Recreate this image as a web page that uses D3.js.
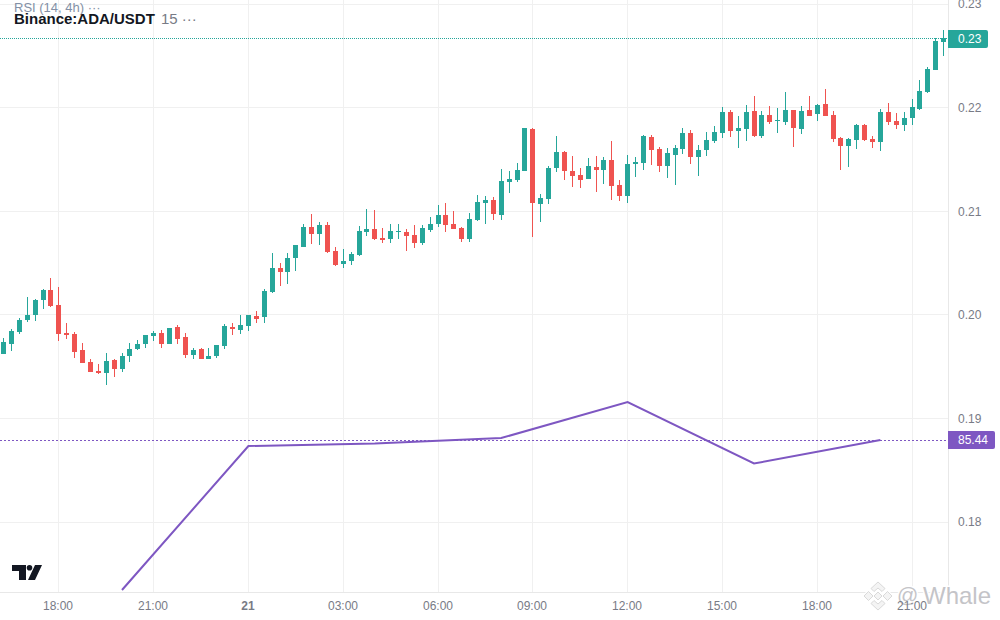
<!DOCTYPE html>
<html>
<head>
<meta charset="utf-8">
<script src="https://cdn.jsdelivr.net/npm/d3@7"></script>
<style>
  body { margin: 0; background: #fff; }
  text { font-family: "Liberation Sans", Arial, sans-serif; }
</style>
</head>
<body>
<svg id="chart" width="1000" height="620"></svg>
<script>
// 15m candles, first one at 16:15 on the 20th
const startTime = Date.UTC(2024, 0, 20, 16, 15)
const opens = [
  .19621,.19718,.19834,.1995,.19998,.20143,.20239,.20095,.19824,.19815,
  .1966,.19544,.19457,.19438,.19564,.19477,.19602,.1967,.19718,.19795,
  .19824,.19718,.19882,.19786,.19612,.1967,.19573,.19602,.19699,.19882,
  .19853,.19892,.19988,.19979,.2022,.20451,.20413,.20548,.20655,.20848,
  .2078,.20867,.20616,.2049,.20519,.20578,.208,.20828,.20742,.20732,
  .208,.208,.2077,.20693,.20819,.20877,.20964,.20877,.20838,.20732,
  .20915,.21079,.21108,.20963,.21282,.21301,.21388,.21794,.2107,.21118,
  .21417,.21572,.21388,.21349,.21311,.21427,.21398,.21494,.21253,.21147,
  .21456,.21465,.21716,.21601,.21436,.21543,.21601,.21755,.21523,.21591,
  .21678,.21754,.21957,.21774,.21793,.21967,.21725,.21928,.2187,.21861,
  .21977,.21793,.21977,.21938,.22034,.21928,.21706,.21629,.21687,.21832,
  .21697,.21667,.21957,.2187,.21832,.21899,.21986,.2215,.22363,.22633
]
const highs = [
  .19776,.19863,.19969,.20172,.20153,.20249,.20355,.20268,.19921,.19834,
  .19728,.19573,.19525,.19631,.19573,.19631,.19728,.19757,.19805,.19843,
  .19853,.19873,.19901,.19824,.19679,.19679,.19679,.19709,.19911,.19921,
  .19998,.19998,.20037,.20249,.20596,.205,.20596,.20674,.20877,.20973,
  .20896,.20896,.20655,.20635,.20607,.20857,.21022,.21012,.20838,.20877,
  .20877,.20828,.20867,.20867,.20944,.2106,.21079,.21002,.20848,.20983,
  .21157,.21147,.21137,.21407,.21388,.21465,.21803,.21803,.21166,.21436,
  .21726,.21581,.21533,.21417,.21514,.21533,.21523,.21678,.21301,.21543,
  .21523,.21736,.21736,.2162,.2161,.21639,.21803,.21784,.21639,.21765,
  .21823,.22006,.21977,.21918,.22025,.22112,.21967,.22015,.21996,.2215,
  .21977,.22015,.22112,.22034,.22179,.21967,.21716,.21706,.21841,.21841,
  .21725,.21986,.22044,.21947,.21957,.22083,.22266,.22392,.22672,.22749
]
const lows = [
  .19621,.1965,.19815,.19931,.1994,.20056,.20075,.19747,.19766,.19583,
  .19535,.19448,.19428,.19322,.19399,.19448,.19544,.1966,.19679,.19747,
  .19679,.19718,.19718,.19583,.19573,.19573,.19573,.19583,.1967,.19805,
  .19815,.19843,.19921,.19921,.2021,.20278,.20297,.20423,.20655,.20684,
  .20674,.20597,.20471,.20452,.20481,.20568,.20761,.20722,.20693,.20693,
  .20732,.20616,.20645,.20674,.208,.20848,.208,.20828,.20703,.20703,
  .20906,.20877,.20915,.20915,.21176,.21282,.21388,.20751,.20896,.2107,
  .21379,.21301,.21234,.21224,.21311,.21186,.21263,.21108,.21098,.21079,
  .2133,.21398,.21446,.21379,.21321,.21253,.21552,.21456,.2134,.21533,
  .21658,.21706,.21716,.2161,.21677,.21716,.21706,.21841,.21754,.21832,
  .21619,.21745,.21918,.2187,.21918,.21667,.21397,.21426,.216,.21677,
  .2161,.21581,.21832,.21793,.21774,.21832,.21977,.22141,.22363,.22498
]
const closes = [
  .19738,.19843,.1995,.19998,.20143,.20239,.20085,.19815,.19805,.19641,
  .19535,.19448,.19438,.19554,.19477,.19602,.1967,.19718,.19805,.19824,
  .19718,.19873,.19766,.19612,.1966,.19573,.19602,.19709,.19892,.19863,
  .19901,.19998,.19959,.2023,.20451,.20413,.20548,.20674,.20848,.2078,
  .20867,.20607,.20481,.20519,.20587,.20809,.20828,.20732,.20722,.20809,
  .20809,.20761,.20693,.20838,.20877,.20964,.20867,.20828,.20732,.20925,
  .21089,.21108,.20973,.21292,.21311,.21398,.21803,.21079,.21127,.21417,
  .21572,.21388,.2134,.21301,.21436,.21398,.21494,.21243,.21147,.21456,
  .21475,.21726,.21591,.21436,.21562,.2161,.21755,.21523,.21591,.21687,
  .21765,.21957,.21774,.21803,.21957,.21725,.21928,.21861,.2188,.21977,
  .21803,.21967,.21918,.22025,.21918,.21697,.21629,.21697,.21832,.21687,
  .21667,.21957,.21861,.21832,.21899,.22006,.2216,.22372,.22643,.22667
]
const priceTicks = [0.18, 0.19, 0.2, 0.21, 0.22, 0.23]
const timeTicks = [
  Date.UTC(2024, 0, 20, 18), Date.UTC(2024, 0, 20, 21), Date.UTC(2024, 0, 21, 0),
  Date.UTC(2024, 0, 21, 3), Date.UTC(2024, 0, 21, 6), Date.UTC(2024, 0, 21, 9),
  Date.UTC(2024, 0, 21, 12), Date.UTC(2024, 0, 21, 15), Date.UTC(2024, 0, 21, 18),
  Date.UTC(2024, 0, 21, 21)
]
const timeLabels = ['18:00', '21:00', '21', '03:00', '06:00', '09:00', '12:00', '15:00', '18:00', '21:00']
// 4h RSI overlay
const rsiTimes = [
  Date.UTC(2024, 0, 20, 20), Date.UTC(2024, 0, 21, 0), Date.UTC(2024, 0, 21, 4),
  Date.UTC(2024, 0, 21, 8), Date.UTC(2024, 0, 21, 12), Date.UTC(2024, 0, 21, 16),
  Date.UTC(2024, 0, 21, 20)
]
const rsiValues = [61.25, 84.47, 84.88, 85.76, 91.57, 81.65, 85.44]

const up = '#26a69a'
const down = '#ef5350'
const purple = '#7e57c2'
const gridColor = '#f0f0f0'
const axisText = '#787b86'
const plotRight = 948
const plotBottom = 592

const candleMs = 15 * 60 * 1000
const x = d3.scaleUtc()
  .domain([startTime, startTime + candleMs * 119])
  .range([3.5, 3.5 + 7.9 * 119])
const y = d3.scaleLinear().domain([0.18, 0.23]).range([522, 4])
const rsiY = d3.scaleLinear().domain([61.25, 91.57]).range([590, 402])
const snap = v => Math.floor(v) + 0.5

const svg = d3.select('#chart')
svg.append('rect').attr('width', 1000).attr('height', 620).attr('fill', '#fff')

svg.append('clipPath').attr('id', 'plot')
  .append('rect').attr('width', plotRight).attr('height', plotBottom)

// grid
svg.append('g').selectAll('line')
  .data(timeTicks)
  .enter().append('line')
  .attr('x1', d => snap(x(d)))
  .attr('x2', d => snap(x(d)))
  .attr('y1', 0)
  .attr('y2', plotBottom)
  .attr('stroke', gridColor)
svg.append('g').selectAll('line')
  .data(priceTicks)
  .enter().append('line')
  .attr('x1', 0)
  .attr('x2', plotRight)
  .attr('y1', d => snap(y(d)))
  .attr('y2', d => snap(y(d)))
  .attr('stroke', gridColor)
svg.append('line')
  .attr('x1', plotRight + 0.5).attr('x2', plotRight + 0.5)
  .attr('y1', 0).attr('y2', plotBottom)
  .attr('stroke', '#e8e8e8')
svg.append('line')
  .attr('x1', 0).attr('x2', plotRight + 1)
  .attr('y1', plotBottom + 0.5).attr('y2', plotBottom + 0.5)
  .attr('stroke', '#e8e8e8')

// watermark sits under the axis labels
const mark = svg.append('g').attr('transform', 'translate(878, 596)')
mark.append('path')
  .attr('d', 'M0,-16 L16,0 L0,16 L-16,0 Z')
  .attr('fill', '#fff')
mark.selectAll('.piece')
  .data([
    'M0,-14 L7,-7.500 L4,-4.500 L0,-8 L-4,-4.500 L-7,-7.500 Z',
    'M0,14 L7,7.500 L4,4.500 L0,8 L-4,4.500 L-7,7.500 Z',
    'M-14,0 L-9.500,-4.500 L-5,0 L-9.500,4.500 Z',
    'M14,0 L9.500,-4.500 L5,0 L9.500,4.500 Z',
    'M0,-4 L4,0 L0,4 L-4,0 Z'
  ])
  .enter().append('path')
  .attr('class', 'piece')
  .attr('d', d => d)
  .attr('fill', '#f4f4f4')
  .attr('stroke', '#d9d9d9')
  .attr('stroke-width', 1)
const markText = svg.append('g')
  .attr('fill', '#c4c4c8')
  .attr('stroke', '#fff')
  .attr('stroke-width', 3)
  .attr('paint-order', 'stroke')
markText.append('text')
  .attr('x', 897)
  .attr('y', 602)
  .attr('font-size', 21)
  .text('@')
markText.append('text')
  .attr('x', 923)
  .attr('y', 604)
  .attr('font-size', 24)
  .text('Whale')

// candles
const candles = d3.range(opens.length).map(i => ({
  t: startTime + candleMs * i,
  o: opens[i], h: highs[i], l: lows[i], c: closes[i]
}))
const candle = svg.append('g')
  .attr('clip-path', 'url(#plot)')
  .selectAll('g')
  .data(candles)
  .enter().append('g')
  .attr('fill', d => d.c >= d.o ? up : down)
candle.append('rect')
  .attr('x', d => snap(x(d.t)) - 0.5)
  .attr('width', 1)
  .attr('y', d => Math.round(y(d.h)))
  .attr('height', d => Math.max(1, Math.round(y(d.l)) - Math.round(y(d.h))))
candle.append('rect')
  .attr('x', d => snap(x(d.t)) - 2.5)
  .attr('width', 5)
  .attr('y', d => Math.round(y(Math.max(d.o, d.c))))
  .attr('height', d => Math.max(1, Math.round(y(Math.min(d.o, d.c))) - Math.round(y(Math.max(d.o, d.c)))))

// last price line, drawn as 1px dots so they stay crisp
const lastClose = closes[closes.length - 1]
const lastRsi = rsiValues[rsiValues.length - 1]
svg.append('line')
  .attr('x1', 0).attr('x2', plotRight)
  .attr('y1', snap(y(lastClose))).attr('y2', snap(y(lastClose)))
  .attr('stroke', up)
  .attr('stroke-dasharray', '1 1')
  .attr('shape-rendering', 'crispEdges')

// rsi
const rsiLine = d3.line()
  .x((d, i) => x(rsiTimes[i]))
  .y(d => rsiY(d))
svg.append('path')
  .datum(rsiValues)
  .attr('clip-path', 'url(#plot)')
  .attr('d', rsiLine)
  .attr('fill', 'none')
  .attr('stroke', purple)
  .attr('stroke-width', 2)
svg.append('line')
  .attr('x1', 0).attr('x2', plotRight)
  .attr('y1', snap(rsiY(lastRsi))).attr('y2', snap(rsiY(lastRsi)))
  .attr('stroke', purple)
  .attr('stroke-dasharray', '2 2')
  .attr('shape-rendering', 'crispEdges')

// axes
const xAxis = svg.append('g')
  .attr('transform', `translate(0, ${plotBottom})`)
  .call(d3.axisBottom(x).offset(0).tickValues(timeTicks).tickSize(0).tickPadding(9).tickFormat((d, i) => timeLabels[i]))
xAxis.select('.domain').remove()
xAxis.selectAll('.tick')
  .attr('transform', d => `translate(${Math.floor(x(d))}, 0)`)
xAxis.selectAll('text')
  .attr('fill', axisText)
  .attr('font-size', 12)
  .attr('font-family', '"Liberation Sans", Arial, sans-serif')
  .attr('font-weight', (d, i) => timeLabels[i] === '21' ? 'bold' : 'normal')

const yAxis = svg.append('g')
  .attr('transform', `translate(${plotRight}, 0)`)
  .call(d3.axisRight(y).tickValues(priceTicks).tickSize(0).tickPadding(10).tickFormat(d3.format('.2f')))
yAxis.select('.domain').remove()
yAxis.selectAll('text')
  .attr('fill', axisText)
  .attr('font-size', 12)
  .attr('font-family', '"Liberation Sans", Arial, sans-serif')

// value labels on the price scale
function valueLabel(cy, w, color, txt) {
  svg.append('path')
    .attr('d', `M${plotRight},${cy - 9} h${w - 2} q2,0 2,2 v14 q0,2 -2,2 h${-(w - 2)} Z`)
    .attr('fill', color)
  svg.append('text')
    .attr('x', plotRight + 10)
    .attr('y', cy + 4)
    .attr('font-size', 12)
    .attr('fill', '#fff')
    .text(txt)
}
valueLabel(Math.round(y(lastClose) + 0.2), 40, up, d3.format('.2f')(lastClose))
valueLabel(Math.round(rsiY(lastRsi) + 0.2), 47, purple, d3.format('.2f')(lastRsi))

// legend
const legend = svg.append('g')
legend.append('text').attr('x', 14).attr('y', 12)
  .attr('font-size', 13).attr('fill', '#8390a6').text('RSI (14, 4h) ···')
legend.append('text').attr('x', 14).attr('y', 24)
  .attr('font-size', 15).attr('font-weight', 'bold').attr('fill', '#131722').text('Binance:ADA/USDT')
legend.append('text').attr('x', 161).attr('y', 24)
  .attr('font-size', 15).attr('fill', '#787b86').text('15 ···')

// tv logo
const logo = svg.append('g')
  .attr('transform', 'translate(12, 565)')
  .attr('fill', '#131722')
logo.append('path').attr('d', 'M0,0 H14 V15 H7 V6 H0 Z')
logo.append('circle').attr('cx', 17.5).attr('cy', 2.8).attr('r', 2.8)
logo.append('path').attr('d', 'M23,0 H30 L23,15 H16 Z')
</script>
</body>
</html>
